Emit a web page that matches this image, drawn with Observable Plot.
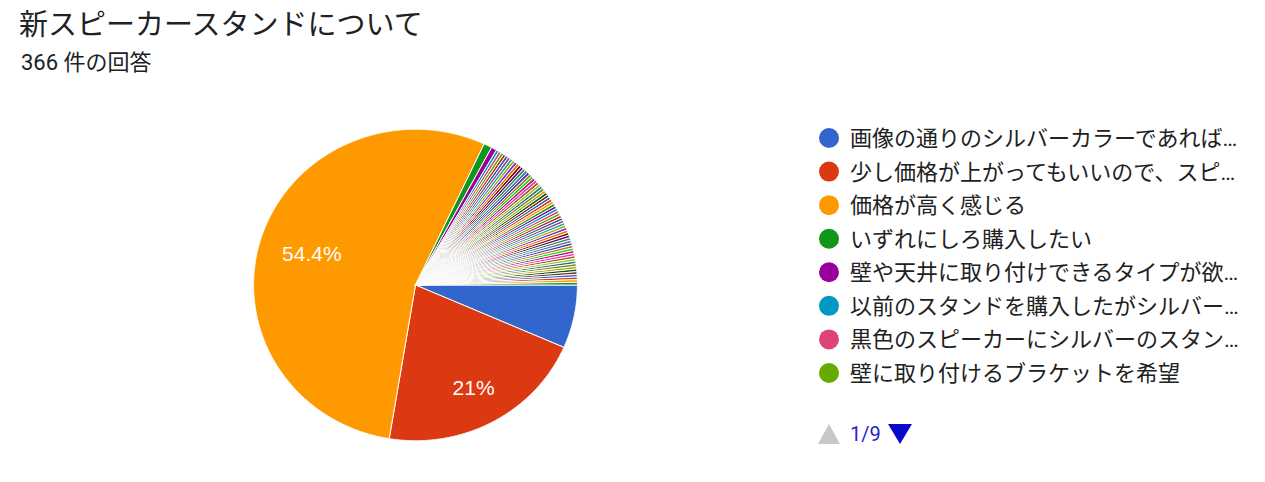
<!DOCTYPE html>
<html>
<head>
<meta charset="utf-8">
<script src="https://cdn.jsdelivr.net/npm/d3@7"></script>
<script src="https://cdn.jsdelivr.net/npm/@observablehq/plot@0.6"></script>
<style>
  html, body { margin: 0; padding: 0; background: #fff; }
  #wrap { position: relative; width: 1265px; height: 482px; overflow: hidden; background: #fff; }
  #pie { position: absolute; left: 244.7px; top: 121.4px; }
  #overlay { position: absolute; left: 0; top: 0; pointer-events: none; }
</style>
</head>
<body>
<div id="wrap">
  <div id="pie"></div>
</div>
<script>
// ---- data ----
const title = "新スピーカースタンドについて";
const subtitle = "366 件の回答";
const legendLabels = [
  "画像の通りのシルバーカラーであれば…",
  "少し価格が上がってもいいので、スピ…",
  "価格が高く感じる",
  "いずれにしろ購入したい",
  "壁や天井に取り付けできるタイプが欲…",
  "以前のスタンドを購入したがシルバー…",
  "黒色のスピーカーにシルバーのスタン…",
  "壁に取り付けるブラケットを希望"
];
const pageLabel = "1/9";
// response counts per answer (first 8 are listed in the legend page 1/9)
const counts = [24, 77, 199, 3, 2, 1, 1, 1,
  1, 1, 1, 1, 1, 1, 1, 1, 1, 1,
  1, 1, 1, 1, 1, 1, 1, 1, 1, 1,
  1, 1, 1, 1, 1, 1, 1, 1, 1, 1,
  1, 1, 1, 1, 1, 1, 1, 1, 1, 1,
  1, 1, 1, 1, 1, 1, 1, 1, 1, 1,
  1, 1, 1, 1, 1, 1, 1, 1];
const palette = ["#3366cc","#dc3912","#ff9900","#109618","#990099","#0099c6","#dd4477","#66aa00",
  "#b82e2e","#316395","#994499","#22aa99","#aaaa11","#6633cc","#e67300","#8b0707","#651067",
  "#329262","#5574a6","#3b3eac","#b77322","#16d620","#b91383","#f4359e","#9c5935","#a9c413",
  "#2a778d","#668d1c","#bea413","#0c5922","#743411"];

// ---- layout ----
const W = 340, H = 327, DOM = 1.05;
const pxX = W / (2 * DOM), pxY = H / (2 * DOM);
const total = d3.sum(counts);
const arcs = d3.pie().sort(null).value(d => d).startAngle(Math.PI / 2).endAngle(Math.PI / 2 + 2 * Math.PI)(counts);

const pts = [];
arcs.forEach((a, i) => {
  const color = palette[i % palette.length];
  pts.push({id: i, x: 0, y: 0, color});
  const n = Math.max(2, Math.ceil((a.endAngle - a.startAngle) / 0.004));
  for (let k = 0; k <= n; k++) {
    const t = a.startAngle + (a.endAngle - a.startAngle) * k / n;
    pts.push({id: i, x: Math.sin(t), y: Math.cos(t), color});
  }
  pts.push({id: i, x: 0, y: 0, color});
});

// labels (percentage) for large slices
const fmt = v => (Math.round(v / total * 1000) / 10) + "%";
const labelFont = 21;
const cv = document.createElement("canvas").getContext("2d");
cv.font = `${labelFont}px "Liberation Sans", Arial, sans-serif`;
const labels = [];
arcs.forEach((a, i) => {
  if (a.value / total < 0.1) return;
  const mid = (a.startAngle + a.endAngle) / 2;
  const ux = Math.sin(mid), uy = -Math.cos(mid); // screen direction
  const text = fmt(a.value);
  const hw = cv.measureText(text).width / 2 / (pxX / pxY), hh = labelFont * 0.35;
  const ax = Math.sign(ux) * hw, ay = Math.sign(uy) * hh;
  const D = 0.86 * pxY;
  const ua = ux * ax + uy * ay;
  const t = -ua + Math.sqrt(ua * ua - (ax * ax + ay * ay) + D * D);
  labels.push({x: t / pxY * ux, y: -t / pxY * uy, text});
});

const chart = Plot.plot({
  width: W, height: H,
  margin: 0,
  x: {domain: [-DOM, DOM], axis: null},
  y: {domain: [-DOM, DOM], axis: null},
  style: {background: "transparent"},
  marks: [
    Plot.line(pts, {x: "x", y: "y", z: "id", fill: "color", stroke: "white", strokeWidth: 1, strokeLinejoin: "round", curve: "linear"}),
    Plot.text(labels, {x: "x", y: "y", text: "text", fill: "white", fontSize: labelFont, fontFamily: "'Liberation Sans', Arial, sans-serif"})
  ]
});
document.getElementById("pie").appendChild(chart);

// ---- title, subtitle, legend overlay ----
const ff = "Roboto, 'Noto Sans CJK JP', sans-serif";
const svg = d3.select("#wrap").append("svg").attr("id", "overlay").attr("width", 1265).attr("height", 482);
svg.append("text").attr("x", 19).attr("y", 35).attr("font-family", ff).attr("font-size", 29).attr("fill", "#202124").text(title);
svg.append("text").attr("x", 21).attr("y", 70).attr("font-family", ff).attr("font-size", 22).attr("fill", "#202124").text(subtitle);

const lg = svg.append("g");
legendLabels.forEach((lab, i) => {
  const cy = 138 + i * 33.57;
  lg.append("circle").attr("cx", 829).attr("cy", cy).attr("r", 10).attr("fill", palette[i]);
  lg.append("text").attr("x", 850).attr("y", cy + 8).attr("font-family", ff).attr("font-size", 22).attr("fill", "#212121").text(lab);
});
const py = 434;
lg.append("path").attr("d", `M818,${py + 10}L840,${py + 10}L829,${py - 10}Z`).attr("fill", "#c8c8c8");
lg.append("text").attr("x", 850).attr("y", py + 7).attr("font-family", ff).attr("font-size", 20).attr("fill", "#1f1fcc").text(pageLabel);
lg.append("path").attr("d", `M888,${py - 10}L912,${py - 10}L900,${py + 10}Z`).attr("fill", "#0a0acc");
</script>
</body>
</html>
